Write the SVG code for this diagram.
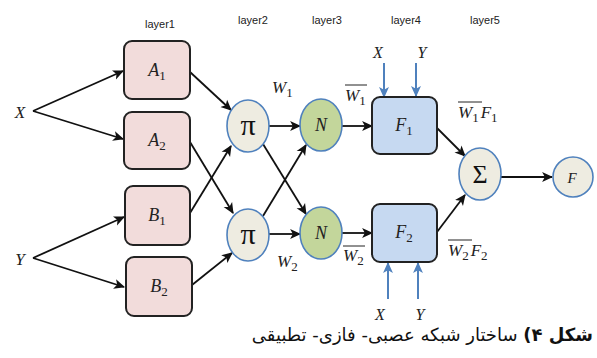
<svg xmlns="http://www.w3.org/2000/svg" width="597" height="358" viewBox="0 0 597 358">
<defs>
<marker id="ah" viewBox="0 0 10 10" refX="9" refY="5" markerWidth="11" markerHeight="11" markerUnits="userSpaceOnUse" orient="auto">
<path d="M0,0.5 L10,5 L0,9.5 L2.5,5 Z" fill="#111"/>
</marker>
<marker id="bh" viewBox="0 0 10 10" refX="9" refY="5" markerWidth="11" markerHeight="11" markerUnits="userSpaceOnUse" orient="auto">
<path d="M0,0.5 L10,5 L0,9.5 L2.5,5 Z" fill="#4f81bd"/>
</marker>
</defs>
<style>
.box{fill:#f2dcdb;stroke:#222;stroke-width:2}
.fbox{fill:#c6d9f1;stroke:#222;stroke-width:2}
.circ{fill:#eeece1;stroke:#4f81bd;stroke-width:1.6}
.ncirc{fill:#c3d69b;stroke:#4f81bd;stroke-width:1.6}
.m{font-family:"Liberation Serif","DejaVu Serif",serif;font-style:italic;fill:#222}
.lay{font-family:"Liberation Sans","DejaVu Sans",sans-serif;font-size:11px;fill:#222;text-anchor:middle}
.c{stroke:#111;stroke-width:1.8;fill:none;marker-end:url(#ah)}
.b{stroke:#4f81bd;stroke-width:2;fill:none;marker-end:url(#bh)}
.ol{stroke:#222;stroke-width:1}
</style>
<rect width="597" height="358" fill="#fff"/>
<g id="layers">
<text class="lay" x="160" y="28">layer1</text>
<text class="lay" x="253" y="24">layer2</text>
<text class="lay" x="327" y="24">layer3</text>
<text class="lay" x="406" y="24">layer4</text>
<text class="lay" x="485" y="24">layer5</text>
</g>
<g id="connectors">
<line class="c" x1="33" y1="111" x2="123" y2="71"/>
<line class="c" x1="33" y1="111" x2="123" y2="139"/>
<line class="c" x1="33" y1="258" x2="124" y2="217"/>
<line class="c" x1="33" y1="258" x2="124" y2="287"/>
<line class="c" x1="190" y1="72" x2="231" y2="110"/>
<line class="c" x1="190" y1="142" x2="233" y2="213"/>
<line class="c" x1="190" y1="213" x2="231" y2="146"/>
<line class="c" x1="192" y1="285" x2="232" y2="253"/>
<line class="c" x1="269" y1="126" x2="300" y2="126"/>
<line class="c" x1="263" y1="144" x2="306" y2="214"/>
<line class="c" x1="263" y1="216" x2="306" y2="145"/>
<line class="c" x1="269" y1="234" x2="300" y2="234"/>
<line class="c" x1="342" y1="126" x2="372" y2="126"/>
<line class="c" x1="342" y1="233" x2="372" y2="233"/>
<line class="c" x1="437" y1="128" x2="465" y2="156"/>
<line class="c" x1="437" y1="232" x2="465" y2="195"/>
<line class="c" x1="501" y1="177" x2="552" y2="177"/>
<line class="b" x1="384" y1="63" x2="384" y2="97"/>
<line class="b" x1="416" y1="63" x2="416" y2="96"/>
<line class="b" x1="388" y1="299" x2="388" y2="263"/>
<line class="b" x1="418" y1="299" x2="418" y2="263"/>
</g>
<g id="inX"><text class="m" x="20" y="118" font-size="17" text-anchor="middle">X</text></g>
<g id="inY"><text class="m" x="20" y="265" font-size="17" text-anchor="middle">Y</text></g>
<g id="A1"><rect class="box" x="124" y="41" width="66" height="58" rx="8"/><text class="m" x="157" y="76" font-size="18" text-anchor="middle">A<tspan font-size="13" font-style="normal" dy="4">1</tspan></text></g>
<g id="A2"><rect class="box" x="124" y="112" width="66" height="57" rx="8"/><text class="m" x="157" y="146" font-size="18" text-anchor="middle">A<tspan font-size="13" font-style="normal" dy="4">2</tspan></text></g>
<g id="B1"><rect class="box" x="125" y="186" width="65" height="59" rx="8"/><text class="m" x="157" y="221" font-size="18" text-anchor="middle">B<tspan font-size="13" font-style="normal" dy="4">1</tspan></text></g>
<g id="B2"><rect class="box" x="126" y="257" width="66" height="59" rx="8"/><text class="m" x="159" y="292" font-size="18" text-anchor="middle">B<tspan font-size="13" font-style="normal" dy="4">2</tspan></text></g>
<g id="pi1"><ellipse class="circ" cx="248" cy="126" rx="21" ry="26"/><text x="248" y="135" font-family="Liberation Serif,serif" font-size="30" text-anchor="middle" fill="#111">π</text></g>
<g id="pi2"><ellipse class="circ" cx="248" cy="235" rx="21" ry="26"/><text x="248" y="244" font-family="Liberation Serif,serif" font-size="30" text-anchor="middle" fill="#111">π</text></g>
<g id="N1"><ellipse class="ncirc" cx="321" cy="125" rx="21" ry="26"/><text class="m" x="321" y="131" font-size="18" text-anchor="middle">N</text></g>
<g id="N2"><ellipse class="ncirc" cx="321" cy="233" rx="21" ry="26"/><text class="m" x="321" y="239" font-size="18" text-anchor="middle">N</text></g>
<g id="F1"><rect class="fbox" x="372" y="97" width="65" height="57" rx="8"/><text class="m" x="404" y="131" font-size="18" text-anchor="middle">F<tspan font-size="13" font-style="normal" dy="4">1</tspan></text></g>
<g id="F2"><rect class="fbox" x="372" y="204" width="65" height="58" rx="8"/><text class="m" x="404" y="238" font-size="18" text-anchor="middle">F<tspan font-size="13" font-style="normal" dy="4">2</tspan></text></g>
<g id="sum"><ellipse class="circ" cx="480" cy="174" rx="21" ry="26"/><text x="480" y="183" font-family="Liberation Serif,serif" font-size="26" text-anchor="middle" fill="#111">Σ</text></g>
<g id="out"><ellipse class="circ" cx="573" cy="177" rx="20" ry="20"/><text class="m" x="572" y="183" font-size="15" text-anchor="middle">F</text></g>
<g id="labels">
<text class="m" x="272" y="93" font-size="17">W<tspan font-size="13" font-style="normal" dy="4">1</tspan></text>
<text class="m" x="277" y="267" font-size="17">W<tspan font-size="13" font-style="normal" dy="4">2</tspan></text>
<text class="m" x="345" y="101" font-size="17">W<tspan font-size="13" font-style="normal" dy="4">1</tspan></text>
<line class="ol" x1="345" y1="85" x2="367" y2="85"/>
<text class="m" x="343" y="261" font-size="17">W<tspan font-size="13" font-style="normal" dy="4">2</tspan></text>
<line class="ol" x1="343" y1="246" x2="365" y2="246"/>
<text class="m" x="458" y="118" font-size="17">W<tspan font-size="13" font-style="normal" dy="4">1</tspan><tspan dy="-4" dx="2">F</tspan><tspan font-size="13" font-style="normal" dy="4">1</tspan></text>
<line class="ol" x1="458" y1="102" x2="482" y2="102"/>
<text class="m" x="448" y="256" font-size="17">W<tspan font-size="13" font-style="normal" dy="4">2</tspan><tspan dy="-4" dx="2">F</tspan><tspan font-size="13" font-style="normal" dy="4">2</tspan></text>
<line class="ol" x1="448" y1="240" x2="472" y2="240"/>
<text class="m" x="378" y="58" font-size="16" text-anchor="middle">X</text>
<text class="m" x="422" y="58" font-size="16" text-anchor="middle">Y</text>
<text class="m" x="380" y="320" font-size="16" text-anchor="middle">X</text>
<text class="m" x="420" y="320" font-size="16" text-anchor="middle">Y</text>
</g>
<g id="caption">
<text x="593" y="341" font-family="DejaVu Sans,sans-serif" font-size="18" direction="rtl" text-anchor="start" fill="#111"><tspan font-weight="bold">شکل ۴)</tspan> ساختار شبکه عصبی- فازی- تطبیقی</text>
</g>
</svg>
